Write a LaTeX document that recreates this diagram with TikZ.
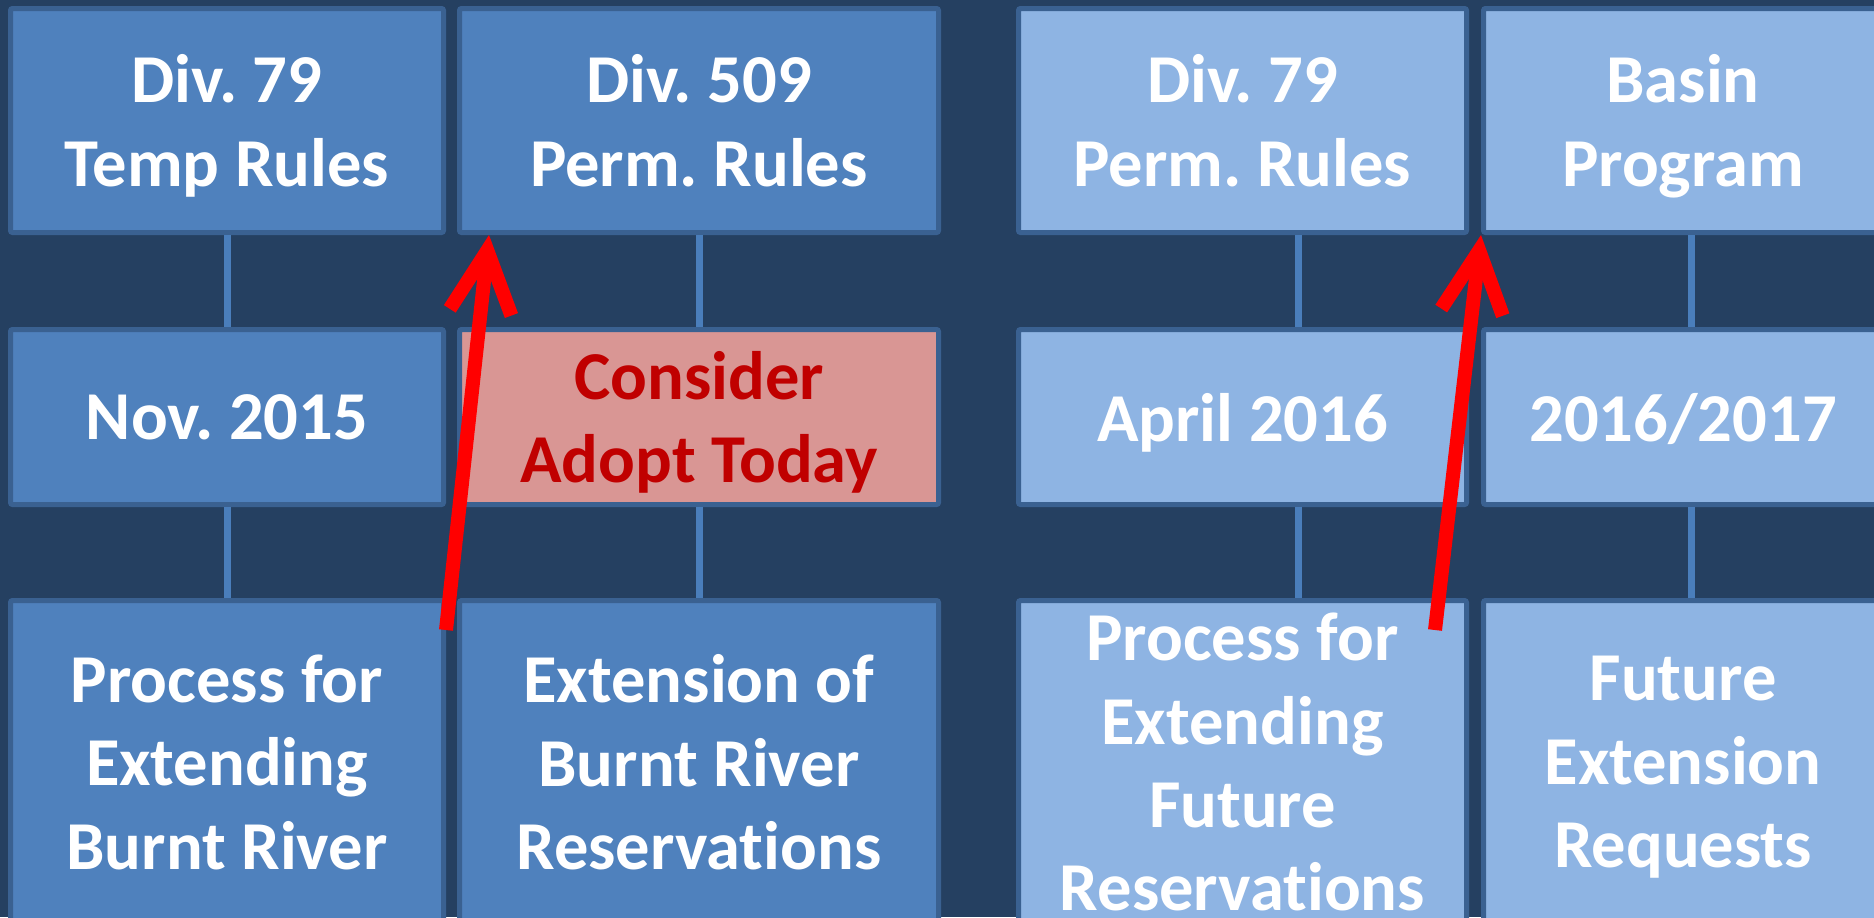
\documentclass[tikz,border=0pt]{standalone}
\usepackage{fontspec}
\setmainfont{Carlito}[Ligatures=NoCommon]
\usetikzlibrary{arrows.meta}
\frenchspacing

\definecolor{slide}{HTML}{254061}
\definecolor{darkbox}{HTML}{4F81BD}
\definecolor{lightbox}{HTML}{8EB4E3}
\definecolor{boxline}{HTML}{3A6191}
\definecolor{hotbox}{HTML}{D99694}
\definecolor{hottext}{HTML}{C00000}
\definecolor{linkblue}{HTML}{4A7EBB}

\begin{document}
\begin{tikzpicture}[
  box/.style={draw=boxline,line width=0.05cm,rounded corners=0.02cm,inner sep=0pt,
    align=center,text=white,text depth=0pt,
    font=\bfseries\fontsize{19.5}{23.7}\selectfont},
  dark/.style={box,fill=darkbox},
  light/.style={box,fill=lightbox},
  hot/.style={box,fill=hotbox,text=hottext},
  top/.style={minimum height=2.24cm},
  mid/.style={minimum height=1.75cm},
  low/.style={minimum height=3.23cm},
  link/.style={draw=linkblue,line width=0.07cm},
  jump/.style={-{Straight Barb[length=0.62cm,width=0.62cm]},draw=red,line width=0.14cm},
]
\useasboundingbox (0,0) rectangle (18.74,-9.17);
\clip (0,0) rectangle (18.74,-9.17);
\fill[slide] (0,0) rectangle (18.74,-9.17);

% first group
\node[dark,top,minimum width=4.33cm] (t1) at (2.27,-1.205) {Div. 79\\Temp Rules};
\node[dark,top,minimum width=4.79cm] (t2) at (6.99,-1.205) {Div. 509\\Perm. Rules};
\node[dark,mid,minimum width=4.33cm] (m1) at (2.27,-4.17) {Nov. 2015};
\node[hot,mid,minimum width=4.79cm] (m2) at (6.99,-4.17) {Consider\\Adopt Today};
\node[dark,low,minimum width=4.33cm] (b1) at (2.27,-7.62) {Process for\\Extending\\Burnt River};
\node[dark,low,minimum width=4.79cm] (b2) at (6.99,-7.62) {Extension of\\Burnt River\\Reservations};

% second group
\node[light,top,minimum width=4.48cm] (t3) at (12.425,-1.205) {Div. 79\\Perm. Rules};
\node[light,top,minimum width=3.99cm] (t4) at (16.83,-1.205) {Basin\\Program};
\node[light,mid,minimum width=4.48cm] (m3) at (12.425,-4.17) {April 2016};
\node[light,mid,minimum width=3.99cm] (m4) at (16.83,-4.17) {2016/2017};
\node[light,low,minimum width=4.48cm] (b3) at (12.425,-7.62) {Process for\\Extending\\Future\\Reservations};
\node[light,low,minimum width=3.99cm] (b4) at (16.83,-7.62) {Future\\Extension\\Requests};

\foreach \a/\b in {t1/m1,m1/b1,t2/m2,m2/b2}
  \draw[link] (\a.south) -- (\b.north);
\foreach \a/\b in {t3/m3,m3/b3}
  \draw[link] ([xshift=0.555cm]\a.south) -- ([xshift=0.555cm]\b.north);
\foreach \a/\b in {t4/m4,m4/b4}
  \draw[link] ([xshift=0.08cm]\a.south) -- ([xshift=0.08cm]\b.north);

\draw[jump] ([yshift=-0.32cm]b1.north east) -- ([xshift=0.32cm]t2.south west);
\draw[jump] ([xshift=-0.34cm,yshift=-0.32cm]b3.north east) -- (t4.south west);
\end{tikzpicture}
\end{document}
